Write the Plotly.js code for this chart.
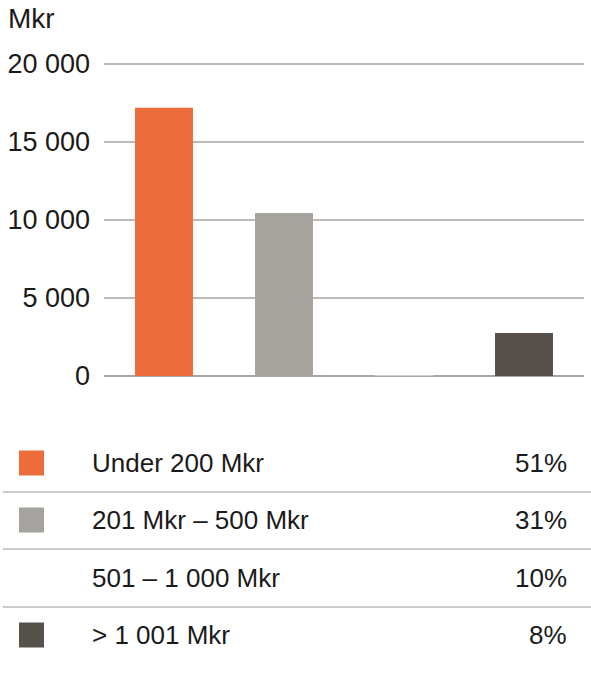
<!DOCTYPE html>
<html>
<head>
<meta charset="utf-8">
<script src="https://cdn.plot.ly/plotly-3.0.1.min.js"></script>
<style>html,body{margin:0;padding:0;background:#fff;}#chart{width:591px;height:686px;}</style>
</head>
<body>
<div id="chart"></div>
<script>
// Data
var categories = ["Under 200 Mkr", "201 Mkr \u2013 500 Mkr", "501 \u2013 1 000 Mkr", "> 1 001 Mkr"];
var values = [17200, 10450, 40, 2750];
var percentages = ["51%", "31%", "10%", "8%"];
var barColors = ["#ec6c3c", "#a6a29d", "#ffffff", "#57514c"];
var showSwatch = [true, true, false, true];
var yTicks = [0, 5000, 10000, 15000, 20000];
var yTickLabels = ["0", "5 000", "10 000", "15 000", "20 000"];
var unitLabel = "Mkr";

var W = 591, H = 686;
var L = 104, R = 584, T = 56, B = 376;
var Y20 = 64; // pixel row of the 20 000 gridline
var yMax = 20000 * (B - T) / (B - Y20);
function xp(px){ return (px - L) / (R - L); }
function yp(py){ return (B - py) / (B - T); }

var FONT = "Liberation Sans, Arial, sans-serif";
var TXT = "#1a1a1a";
var LINE = "#bdb9b4";

var shapes = [], annotations = [];
annotations.push({xref:"paper", yref:"paper", x:xp(6), y:yp(19), xanchor:"left", yanchor:"middle",
  text:unitLabel, showarrow:false, font:{family:FONT, size:28, color:TXT}});

var rowCenters = [463, 520, 578, 635];
var seps = [492, 549, 607];
for (var i = 0; i < categories.length; i++) {
  var cy = rowCenters[i];
  if (showSwatch[i]) {
    shapes.push({type:"rect", xref:"paper", yref:"paper", x0:xp(19), x1:xp(44), y0:yp(cy-12.5), y1:yp(cy+12.5),
      fillcolor:barColors[i], line:{width:0}});
  }
  annotations.push({xref:"paper", yref:"paper", x:xp(90), y:yp(cy), xanchor:"left", yanchor:"middle",
    text:categories[i].replace(">", "&gt;"), showarrow:false, font:{family:FONT, size:26, color:TXT}});
  annotations.push({xref:"paper", yref:"paper", x:xp(569), y:yp(cy), xanchor:"right", yanchor:"middle",
    text:percentages[i], showarrow:false, font:{family:FONT, size:26, color:TXT}});
}
seps.forEach(function(s){
  shapes.push({type:"line", xref:"paper", yref:"paper", x0:xp(3), x1:xp(591), y0:yp(s), y1:yp(s),
    line:{color:LINE, width:1.5}});
});

var trace = {
  type:"bar", x:categories, y:values,
  marker:{color:barColors, line:{width:0}},
  hoverinfo:"none"
};

var layout = {
  width:W, height:H,
  margin:{l:L, r:W-R, t:T, b:H-B, pad:0},
  paper_bgcolor:"#fff", plot_bgcolor:"#fff",
  showlegend:false,
  bargap:0.517,
  xaxis:{type:"category", range:[-0.5, 3.5], showticklabels:false, ticks:"", showgrid:false,
    zeroline:false, showline:false, fixedrange:true},
  yaxis:{range:[0, yMax], tickmode:"array", tickvals:yTicks, ticktext:yTickLabels,
    showgrid:true, gridcolor:LINE, gridwidth:1.5, zeroline:true, zerolinecolor:"#aaa6a1", zerolinewidth:2,
    showline:false, ticks:"", ticklabelstandoff:13,
    tickfont:{family:FONT, size:27, color:TXT}, fixedrange:true},
  shapes:shapes, annotations:annotations,
  font:{family:FONT, color:TXT}
};

Plotly.newPlot("chart", [trace], layout, {displayModeBar:false, staticPlot:true});
</script>
</body>
</html>
